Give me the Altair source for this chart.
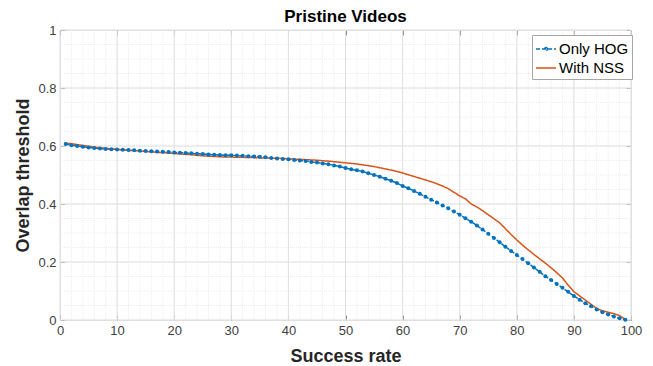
import altair as alt
import pandas as pd

# ---- data ----
success_rate = list(range(1, 100))

only_hog = [
    0.607, 0.603, 0.600, 0.597, 0.595, 0.593, 0.591, 0.590, 0.589, 0.588,
    0.587, 0.586, 0.585, 0.584, 0.583, 0.582, 0.581, 0.580, 0.579, 0.578,
    0.577, 0.576, 0.575, 0.573, 0.572, 0.571, 0.570, 0.569, 0.568, 0.568,
    0.567, 0.566, 0.565, 0.564, 0.563, 0.561, 0.559, 0.557, 0.555, 0.554,
    0.552, 0.550, 0.548, 0.545, 0.543, 0.540, 0.537, 0.533, 0.529, 0.524,
    0.520, 0.516, 0.512, 0.506, 0.500, 0.494, 0.487, 0.480, 0.472, 0.462,
    0.454, 0.445, 0.435, 0.425, 0.415, 0.405, 0.395, 0.385, 0.374, 0.363,
    0.351, 0.339, 0.326, 0.312, 0.297, 0.283, 0.268, 0.253, 0.238, 0.224,
    0.210, 0.196, 0.181, 0.166, 0.151, 0.138, 0.124, 0.111, 0.097, 0.083,
    0.070, 0.058, 0.047, 0.036, 0.027, 0.019, 0.012, 0.006, 0.001,
]

with_nss = [
    0.610, 0.608, 0.605, 0.602, 0.599, 0.596, 0.594, 0.592, 0.590, 0.588,
    0.587, 0.585, 0.584, 0.583, 0.581, 0.580, 0.578, 0.577, 0.576, 0.574,
    0.573, 0.571, 0.570, 0.568, 0.566, 0.565, 0.564, 0.563, 0.562, 0.562,
    0.561, 0.561, 0.560, 0.560, 0.559, 0.559, 0.558, 0.558, 0.557, 0.556,
    0.555, 0.554, 0.553, 0.552, 0.551, 0.549, 0.548, 0.546, 0.544, 0.542,
    0.540, 0.538, 0.535, 0.532, 0.529, 0.525, 0.521, 0.517, 0.512, 0.507,
    0.501, 0.495, 0.489, 0.483, 0.477, 0.470, 0.462, 0.453, 0.440, 0.428,
    0.418, 0.400, 0.390, 0.377, 0.363, 0.349, 0.335, 0.315, 0.295, 0.276,
    0.258, 0.242, 0.226, 0.211, 0.196, 0.180, 0.163, 0.145, 0.120, 0.098,
    0.083, 0.069, 0.054, 0.040, 0.032, 0.027, 0.022, 0.015, 0.002,
]

series_names = ["Only HOG", "With NSS"]
series_colors = ["#0072BD", "#D95319"]
series_dashes = [[4, 2], [1, 0]]
# legend glyphs: line with a dot marker for HOG, plain line for NSS
series_glyphs = ["M-1,0H1M0,-0.15A0.15,0.15,0,1,1,0,0.15A0.15,0.15,0,1,1,0,-0.15Z",
                 "M-1,0H1"]

x_major = [0, 10, 20, 30, 40, 50, 60, 70, 80, 90, 100]
x_minor = [0, 2, 4, 6, 8, 10, 12, 14, 16, 18, 20, 22, 24, 26, 28, 30, 32, 34,
           36, 38, 40, 42, 44, 46, 48, 50, 52, 54, 56, 58, 60, 62, 64, 66, 68,
           70, 72, 74, 76, 78, 80, 82, 84, 86, 88, 90, 92, 94, 96, 98, 100]
y_major = [0, 0.2, 0.4, 0.6, 0.8, 1.0]
y_minor = [0, 0.05, 0.1, 0.15, 0.2, 0.25, 0.3, 0.35, 0.4, 0.45, 0.5, 0.55,
           0.6, 0.65, 0.7, 0.75, 0.8, 0.85, 0.9, 0.95, 1.0]

df = pd.DataFrame({
    "x": success_rate + success_rate,
    "y": only_hog + with_nss,
    "series": [series_names[0]] * len(only_hog) + [series_names[1]] * len(with_nss),
})

FONT = "Liberation Sans"
TICK_COLOR = "#8a8a8a"
LABEL_COLOR = "#404040"

xs = alt.Scale(domain=[0, 100], nice=False, zero=False)
ys = alt.Scale(domain=[0, 1], nice=False, zero=False)

minor_x = alt.Chart(pd.DataFrame({"v": x_minor})).mark_rule(
    color="#ececec", strokeWidth=1, strokeDash=[1, 1]
).encode(x=alt.X("v:Q", scale=xs, axis=None))

minor_y = alt.Chart(pd.DataFrame({"v": y_minor})).mark_rule(
    color="#ececec", strokeWidth=1, strokeDash=[1, 1]
).encode(y=alt.Y("v:Q", scale=ys, axis=None))

major_x = alt.Chart(pd.DataFrame({"v": x_major})).mark_rule(
    color="#e0e0e0", strokeWidth=1
).encode(x=alt.X("v:Q", scale=xs, axis=alt.Axis(
    orient="top", values=x_major, labels=False, domain=False, grid=False,
    ticks=True, tickSize=5, offset=-5, tickColor=TICK_COLOR, title=None)))

major_y = alt.Chart(pd.DataFrame({"v": y_major})).mark_rule(
    color="#e0e0e0", strokeWidth=1
).encode(y=alt.Y("v:Q", scale=ys, axis=alt.Axis(
    orient="right", values=y_major, labels=False, domain=False, grid=False,
    ticks=True, tickSize=5, offset=-5, tickColor=TICK_COLOR, title=None)))

legend = alt.Legend(
    title=None, orient="none", legendX=472, legendY=5,
    symbolSize=400, symbolStrokeWidth=1.5, symbolOpacity=1,
    symbolFillColor="transparent",
    labelFont=FONT, labelFontSize=15, labelColor="black", labelOffset=2,
    padding=3, rowPadding=0, strokeColor="#a6a6a6", fillColor="white",
    cornerRadius=0,
)

color_enc = alt.Color("series:N", scale=alt.Scale(domain=series_names, range=series_colors),
                      legend=legend)

lines = alt.Chart(df).mark_line(strokeWidth=1.5).encode(
    x=alt.X("x:Q", scale=xs, axis=alt.Axis(
        orient="bottom", values=x_major, offset=-5, tickSize=5, domain=False,
        grid=False, tickColor=TICK_COLOR, labelPadding=4, labelFont=FONT,
        labelFontSize=13, labelColor=LABEL_COLOR, labelFlush=False,
        title="Success rate",
        titleFont=FONT, titleFontSize=18, titleFontWeight="bold",
        titleColor="#262626", titlePadding=10)),
    y=alt.Y("y:Q", scale=ys, axis=alt.Axis(
        orient="left", values=y_major, offset=-5, tickSize=5, domain=False,
        grid=False, tickColor=TICK_COLOR, labelPadding=4, labelFont=FONT,
        labelFontSize=13, labelColor=LABEL_COLOR, format=".1~f", labelFlush=False,
        title="Overlap threshold", titleFont=FONT, titleFontSize=18,
        titleFontWeight="bold", titleColor="#262626", titlePadding=5)),
    color=color_enc,
    strokeDash=alt.StrokeDash("series:N", scale=alt.Scale(domain=series_names,
                                                          range=series_dashes),
                              legend=legend),
)

# invisible helper layer that only contributes the legend glyph shapes
legend_helper = alt.Chart(df).mark_point(opacity=0, filled=False).encode(
    x=alt.X("x:Q", scale=xs, axis=None),
    y=alt.Y("y:Q", scale=ys, axis=None),
    color=color_enc,
    shape=alt.Shape("series:N", scale=alt.Scale(domain=series_names, range=series_glyphs),
                    legend=legend),
)

points = alt.Chart(df).transform_filter(
    alt.datum.series == series_names[0]
).mark_circle(size=16, color=series_colors[0], opacity=1).encode(
    x=alt.X("x:Q", scale=xs, axis=None),
    y=alt.Y("y:Q", scale=ys, axis=None),
)

chart = alt.layer(minor_x, minor_y, major_x, major_y, lines, legend_helper, points).resolve_axis(
    x="independent", y="independent"
).properties(
    width=571, height=290,
    title=alt.Title("Pristine Videos", font=FONT, fontSize=17, fontWeight="bold",
                    color="black", anchor="middle", offset=7, dy=9),
    padding={"left": 52, "top": 22, "right": 14, "bottom": 46},
    autosize=alt.AutoSizeParams(type="none"),
).configure_view(stroke="#9a9a9a", strokeWidth=1).configure(background="white")

chart.save("out.html", embed_options={"renderer": "svg", "actions": False})
